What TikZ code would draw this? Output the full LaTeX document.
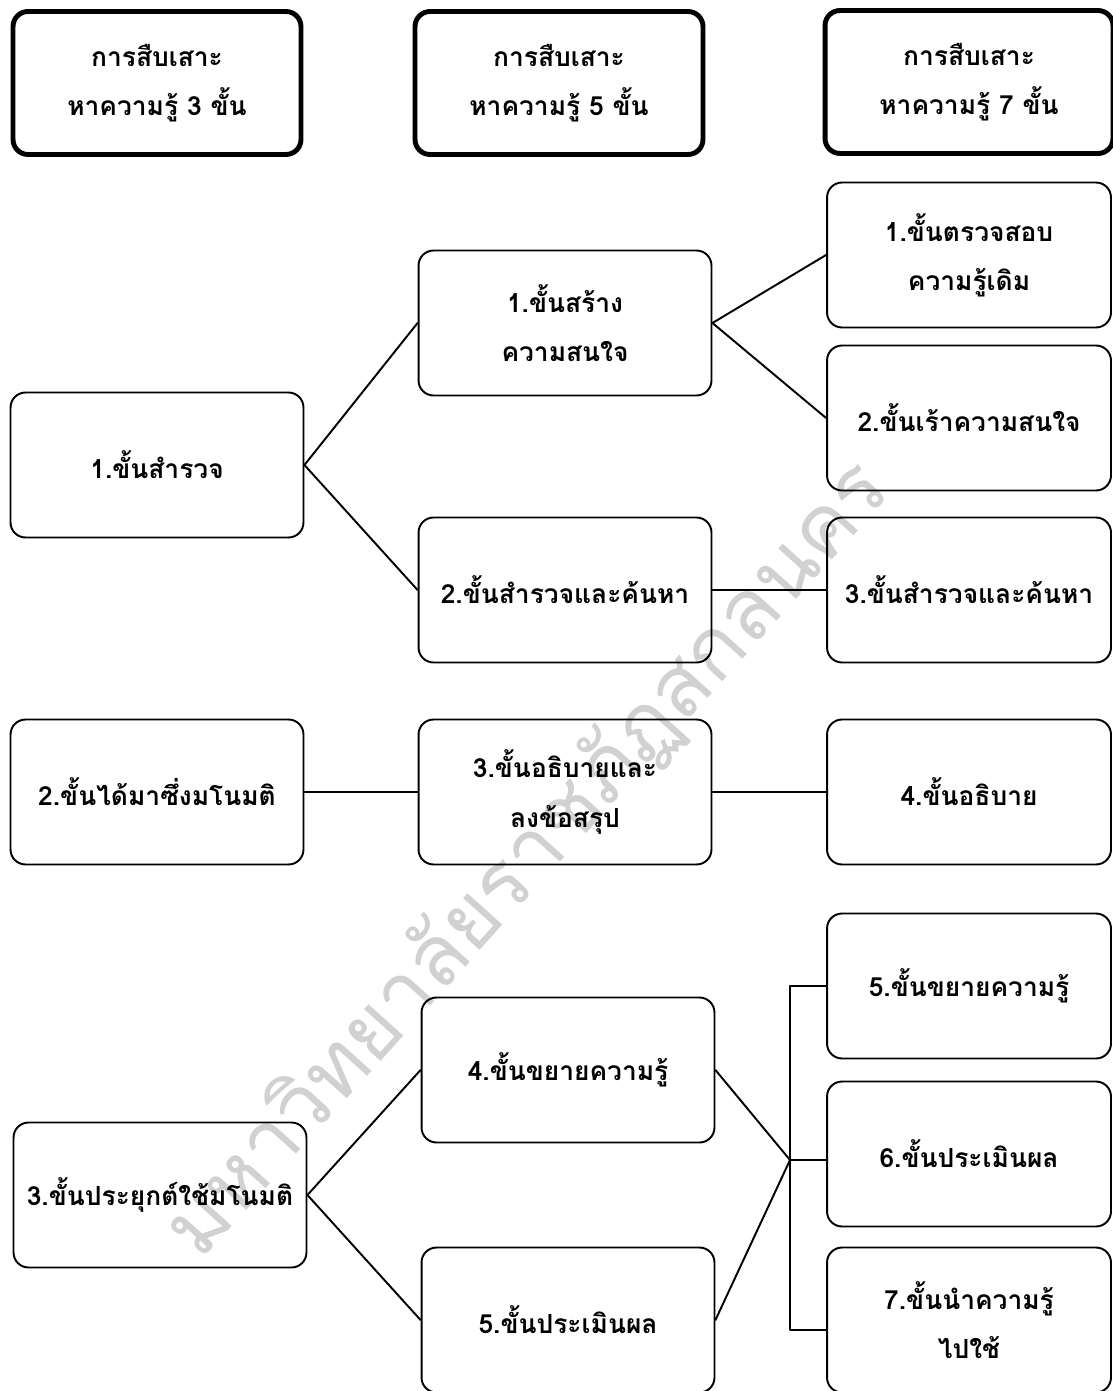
\documentclass[tikz,border=0pt]{standalone}
\usepackage{fontspec}
\newfontfamily\thaifont[Script=Thai]{Loma}
\usetikzlibrary{positioning}

\begin{document}
\begin{tikzpicture}
    [line cap=round,line join=round,x=0.02cm,y=-0.02cm,
     stepbox/.style={draw,line width=1.1pt,rounded corners=0.3cm,minimum width=5.86cm,minimum height=2.9cm,
                     inner sep=0pt,align=center,font=\thaifont\bfseries\fontsize{15}{28}\selectfont},
     rightbox/.style={stepbox,minimum width=5.68cm},
     headbox/.style={stepbox,line width=2.8pt,minimum width=5.76cm,minimum height=2.86cm},
     link/.style={line width=1.1pt},
     watermark/.style={text=black!18,font=\thaifont\fontsize{48}{48}\selectfont}]
\useasboundingbox (0,0) rectangle (1112,1391);
%watermark
 \node[watermark,rotate=48] (wm) at (528,860) {มหาวิทยาลัยราชภัฏสกลนคร};

%headers
 \node[headbox] (h3) at (157,83) {การสืบเสาะ\\หาความรู้ 3 ขั้น};
 \node[headbox] (h5) at (559,83) {การสืบเสาะ\\หาความรู้ 5 ขั้น};
 \node[headbox] (h7) at (969,82) {การสืบเสาะ\\หาความรู้ 7 ขั้น};

%3 steps
 \node[stepbox] (a1) at (157,465) {1.ขั้นสำรวจ};
 \node[stepbox] (a2) at (157,792) {2.ขั้นได้มาซึ่งมโนมติ};
 \node[stepbox] (a3) at (160,1195) {3.ขั้นประยุกต์ใช้มโนมติ};

%5 steps
 \node[stepbox] (b1) at (565,323) {1.ขั้นสร้าง\\ความสนใจ};
 \node[stepbox] (b2) at (565,590) {2.ขั้นสำรวจและค้นหา};
 \node[stepbox] (b3) at (565,792) {3.ขั้นอธิบายและ\\ลงข้อสรุป};
 \node[stepbox] (b4) at (568,1070) {4.ขั้นขยายความรู้};
 \node[stepbox] (b5) at (568,1320) {5.ขั้นประเมินผล};

%7 steps
 \node[rightbox] (c1) at (969,255) {1.ขั้นตรวจสอบ\\ความรู้เดิม};
 \node[rightbox] (c2) at (969,418) {2.ขั้นเร้าความสนใจ};
 \node[rightbox] (c3) at (969,590) {3.ขั้นสำรวจและค้นหา};
 \node[rightbox] (c4) at (969,792) {4.ขั้นอธิบาย};
 \node[rightbox] (c5) at (969,986) {5.ขั้นขยายความรู้};
 \node[rightbox] (c6) at (969,1154) {6.ขั้นประเมินผล};
 \node[rightbox] (c7) at (969,1320) {7.ขั้นนำความรู้\\ไปใช้};

%links
 \draw[link] (b1.west) -- (a1.east) -- (b2.west);
 \draw[link] (c1.west) -- (b1.east) -- (c2.west);
 \draw[link] (b2.east) -- (c3.west);
 \draw[link] (a2.east) -- (b3.west);
 \draw[link] (b3.east) -- (c4.west);
 \draw[link] (b4.west) -- (a3.east) -- (b5.west);

 \coordinate (hub) at (790,1160);
 \coordinate (bartop) at (hub |- c5.west);
 \coordinate (barbot) at (790,1330);
 \draw[link] (b4.east) -- (hub) -- (b5.east);
 \draw[link] (c5.west) -- (bartop) -- (barbot) -- (barbot -| c7.west);
 \draw[link] (hub) -- (hub -| c6.west);
\end{tikzpicture}
\end{document}
